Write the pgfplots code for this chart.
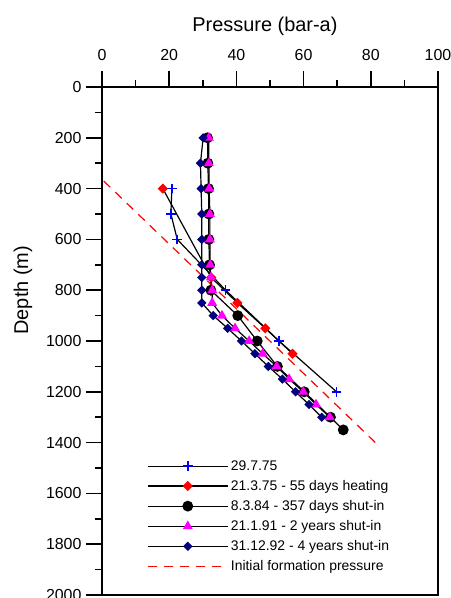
\documentclass[border=0pt]{standalone}
\usepackage{pgfplots}
\pgfplotsset{compat=1.18}
\usepackage{fontspec}
\setmainfont{Liberation Sans}
\definecolor{navy}{RGB}{0,0,128}
\definecolor{pmag}{RGB}{255,0,255}
\definecolor{pblue}{RGB}{0,0,255}
\definecolor{pred}{RGB}{255,0,0}

\begin{document}
\begin{tikzpicture}
\begin{axis}[
  scale only axis,
  width=336bp, height=508bp,
  xmin=0, xmax=100, ymin=0, ymax=2000,
  y dir=reverse,
  xtick={0,20,...,100}, ytick={0,200,...,2000},
  minor x tick num=1, minor y tick num=1,
  xtick pos=upper, xticklabel pos=upper,
  ytick pos=left,
  tick align=outside,
  major tick length=16bp, minor tick length=7bp,
  axis line style={line width=1.6bp},
  every tick/.style={black, line width=1.6bp},
  /pgf/number format/assume math mode=true,
  /pgf/number format/set thousands separator={},
  ticklabel style={font=\fontsize{16}{16}\selectfont},
  xticklabel style={yshift=7bp},
  yticklabel style={xshift=-1bp},
  xlabel={Pressure (bar-a)},
  ylabel={Depth (m)},
  label style={font=\fontsize{20}{20}\selectfont},
  xlabel style={at={(ticklabel cs:0.485)}, yshift=7bp},
  ylabel style={at={(ticklabel cs:0.6)}, yshift=7bp},
  legend cell align=left,
  legend image code/.code={\draw[mark repeat=2,mark phase=2,#1] plot coordinates {(0bp,0bp) (40bp,0bp) (80bp,0bp)};},
  legend style={draw=none, fill=none, at={(0.125,0.274)}, anchor=north west,
    font=\fontsize{14}{14}\selectfont, row sep=3.5bp,
    nodes={inner sep=2.5bp}},
  clip=false,
]
% 29.7.75
\addplot[black, line width=1.2bp, mark=+, mark size=4.8bp,
  mark options={pblue, solid, line width=1.7bp}] coordinates {
  (20.8,400) (20.5,500) (22.4,600) (36.8,800) (52.7,1000) (69.8,1200)};
% 21.3.75
\addplot[black, line width=1.2bp, mark=square*, mark size=3bp,
  mark options={pred, solid, rotate=45}] coordinates {
  (18.1,400) (32.5,750) (40.3,850) (48.6,950) (56.7,1050)};
% 8.3.84
\addplot[black, line width=1.2bp, mark=*, mark size=4.8bp,
  mark options={black, solid}] coordinates {
  (31.4,200) (31.5,300) (31.7,400) (31.8,500) (31.8,600) (32.0,700)
  (32.4,800) (40.4,900) (46.2,1000) (52.2,1100) (60.2,1200) (68.0,1300)
  (71.8,1350)};
% 21.1.91
\addplot[black, line width=1.2bp, mark=triangle*, mark size=4.6bp,
  mark options={pmag, solid}] coordinates {
  (31.8,200) (31.8,300) (31.9,400) (32.1,500) (32.1,600) (32.2,700)
  (32.4,750) (32.8,800) (32.8,850) (35.7,900) (39.6,950) (43.8,1000)
  (47.8,1050) (52.0,1100) (55.7,1150) (59.9,1200) (63.7,1250) (67.8,1300)};
% 31.12.92
\addplot[black, line width=1.2bp, mark=square*, mark size=2.7bp,
  mark options={navy, solid, rotate=45}] coordinates {
  (30.1,200) (29.3,300) (29.5,400) (29.7,500) (29.7,600) (29.7,700)
  (29.7,750) (29.7,800) (29.7,850) (33.1,900) (37.4,950) (41.5,1000)
  (45.5,1050) (49.5,1100) (53.7,1150) (57.6,1200) (61.6,1250) (65.4,1300)};
% initial formation pressure
\addplot[pred, line width=1.2bp, dash pattern=on 9bp off 7bp] coordinates {
  (0.5,370) (81.3,1399)};
\legend{29.7.75, 21.3.75 - 55 days heating, 8.3.84 - 357 days shut-in,
  21.1.91 - 2 years shut-in, 31.12.92 - 4 years shut-in,
  Initial formation pressure}
\end{axis}
\pgfresetboundingbox
\path (-102bp,-3bp) rectangle (349bp,595bp);
\end{tikzpicture}
\end{document}
